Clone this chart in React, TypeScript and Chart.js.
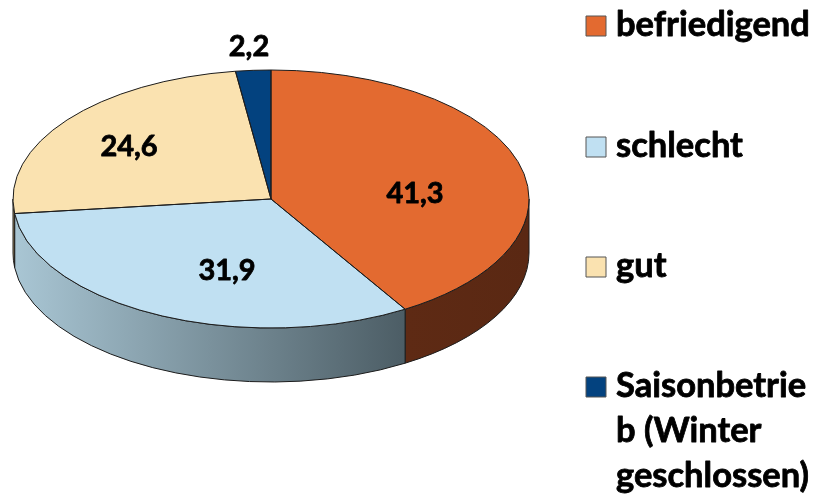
import React, { useEffect, useRef } from "react";
import { Chart, registerables } from "chart.js";

Chart.register(...registerables);

const categories = ["befriedigend", "schlecht", "gut", "Saisonbetrieb (Winter geschlossen)"];
const shares = [41.3, 31.9, 24.6, 2.2];
const legendLines = [["befriedigend"], ["schlecht"], ["gut"], ["Saisonbetrie", "b (Winter", "geschlossen)"]];
const topColors = ["#E36A30", "#C0E0F2", "#FAE2B0", "#03427F"];
const wallStops = [
  ["#5E2A14", "#5A2813"],
  ["#A9C6D4", "#4C5D65"],
  ["#A08C62", "#A08C62"],
  ["#022A52", "#022A52"],
];
const labelAnchors = [
  [415, 194],
  [227, 271],
  [129, 147],
  [249, 47],
];
const legendRowBaselines = [36, 157, 277, 397];

const X_STRETCH = 2;
const DEPTH = 54;
const FONT = "Lato, Carlito, sans-serif";
const OUTLINE = "#1c1c1c";

function geometry(chart: any) {
  return chart.getDatasetMeta(0).data.map((el: any) =>
    el.getProps(["x", "y", "startAngle", "endAngle", "outerRadius"], true)
  );
}

function boldText(ctx: CanvasRenderingContext2D, text: string, x: number, y: number) {
  ctx.fillStyle = "#000";
  ctx.strokeStyle = "#000";
  ctx.lineWidth = 0.8;
  ctx.lineJoin = "round";
  ctx.strokeText(text, x, y);
  ctx.fillText(text, x, y);
}

const pie3d = {
  id: "pie3d",
  beforeDatasetsDraw(chart: any) {
    const { ctx } = chart;
    const arcs = geometry(chart);
    const { x: cx, y: cy, outerRadius: ry } = arcs[0];
    const rx = ry * X_STRETCH;

    arcs.forEach((a: any, i: number) => {
      const lo = Math.max(a.startAngle, 0);
      const hi = Math.min(a.endAngle, Math.PI);
      if (hi <= lo) return;
      const x0 = cx + rx * Math.cos(hi);
      const x1 = cx + rx * Math.cos(lo);
      const g = ctx.createLinearGradient(x0, 0, x1, 0);
      g.addColorStop(0, wallStops[i][0]);
      g.addColorStop(1, wallStops[i][1]);
      ctx.beginPath();
      ctx.ellipse(cx, cy, rx, ry, 0, lo, hi);
      ctx.ellipse(cx, cy + DEPTH, rx, ry, 0, hi, lo, true);
      ctx.closePath();
      ctx.fillStyle = g;
      ctx.fill();
      ctx.strokeStyle = OUTLINE;
      ctx.lineWidth = 1;
      ctx.stroke();
    });

    ctx.save();
    ctx.translate(cx, cy);
    ctx.scale(X_STRETCH, 1);
    ctx.translate(-cx, -cy);
  },
  afterDatasetsDraw(chart: any) {
    const { ctx } = chart;
    ctx.restore();
    const arcs = geometry(chart);
    const { x: cx, y: cy, outerRadius: ry } = arcs[0];
    const rx = ry * X_STRETCH;

    ctx.strokeStyle = OUTLINE;
    ctx.lineWidth = 1;
    arcs.forEach((a: any) => {
      ctx.beginPath();
      ctx.moveTo(cx, cy);
      ctx.ellipse(cx, cy, rx, ry, 0, a.startAngle, a.endAngle);
      ctx.closePath();
      ctx.stroke();
    });

    ctx.textAlign = "center";
    ctx.textBaseline = "middle";
    ctx.font = `bold 29px ${FONT}`;
    shares.forEach((v, i) => {
      boldText(ctx, v.toFixed(1).replace(".", ","), labelAnchors[i][0], labelAnchors[i][1]);
    });

    ctx.textAlign = "left";
    ctx.textBaseline = "alphabetic";
    ctx.font = `bold 34.5px ${FONT}`;
    legendLines.forEach((lines, i) => {
      const base = legendRowBaselines[i];
      ctx.fillStyle = topColors[i];
      ctx.fillRect(586, base - 20, 20, 20);
      ctx.strokeStyle = "#555";
      ctx.lineWidth = 1;
      ctx.strokeRect(586, base - 20, 20, 20);
      lines.forEach((line, j) => boldText(ctx, line, 616, base + j * 45));
    });
  },
};

export default function App() {
  const ref = useRef<HTMLCanvasElement>(null);
  useEffect(() => {
    document.body.style.margin = "0";
    const chart = new Chart(ref.current!, {
      type: "pie",
      data: {
        labels: categories,
        datasets: [
          {
            data: shares,
            backgroundColor: topColors,
            borderWidth: 0,
            clip: false,
          } as any,
        ],
      },
      options: {
        responsive: false,
        animation: false,
        layout: { padding: { left: 13, right: 288, top: 70, bottom: 166 } },
        plugins: { legend: { display: false }, tooltip: { enabled: false } },
      },
      plugins: [pie3d],
    });
    return () => chart.destroy();
  }, []);
  return <canvas ref={ref} width={817} height={494} style={{ display: "block" }} />;
}
